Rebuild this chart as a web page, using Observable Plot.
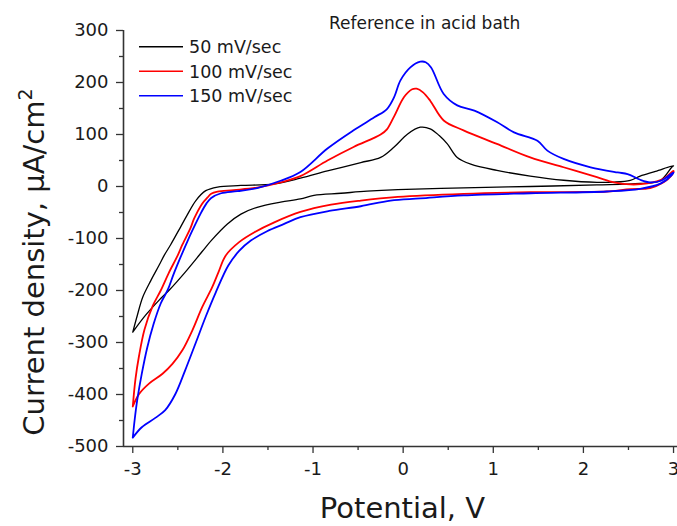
<!DOCTYPE html>
<html>
<head>
<meta charset="utf-8">
<script src="https://cdn.jsdelivr.net/npm/d3@7"></script>
<script src="https://cdn.jsdelivr.net/npm/@observablehq/plot@0.6"></script>
<style>
  html, body { margin: 0; padding: 0; background: #ffffff; }
  #chart { width: 677px; height: 526px; }
</style>
</head>
<body>
<div id="chart"></div>
<script>
// ---- text ----
const titleText = "Reference in acid bath";
const xLabelText = "Potential, V";
const yLabelText = "Current density, \u03BCA/cm";
const yLabelSup = "2";

// ---- series ----
const seriesNames = ["50 mV/sec", "100 mV/sec", "150 mV/sec"];
const seriesColors = ["#000000", "#ff0000", "#0000ff"];

// ---- ticks ----
const xTicks = [-3, -2, -1, 0, 1, 2, 3];
const xMinorTicks = [-2.5, -1.5, -0.5, 0.5, 1.5, 2.5];
const yTicks = [-500, -400, -300, -200, -100, 0, 100, 200, 300];
const yMinorTicks = [-450, -350, -250, -150, -50, 50, 150, 250];
const xDomain = [-3.103, 3.044];
const yDomain = [-500, 300];

// ---- 50 mV/sec loop (forward -3 -> 3, then reverse 3 -> -3) ----
const v50 = [-3.00,-2.95,-2.89,-2.80,-2.71,-2.65,-2.58,-2.47,-2.40,-2.30,-2.19,-2.06,-1.80,-1.43,-1.14,-0.84,-0.47,-0.25,-0.10,0.05,0.19,0.30,0.40,0.49,0.60,0.75,1.04,1.41,1.78,2.15,2.34,2.52,2.63,2.80,3.00,
             2.98,2.85,2.63,2.15,1.41,0.67,-0.06,-0.40,-0.69,-0.99,-1.14,-1.36,-1.62,-1.80,-1.95,-2.13,-2.23,-2.42,-2.60,-2.71,-2.86,-3.00];
const i50 = [-280,-248,-213,-181,-152,-132,-112,-78,-56,-27,-8,-1,2,5,16,30,46,56,76,101,114,111,98,82,56,43,31,20,12,8,8.5,12,20,29,40,
             37,11,6,3,0,-2.5,-6,-9,-13,-17,-24,-30,-40,-53,-72,-104,-125,-165,-200,-219,-248,-280];

// ---- 100 mV/sec loop ----
const v100 = [-3.00,-2.97,-2.93,-2.87,-2.78,-2.69,-2.60,-2.50,-2.45,-2.36,-2.32,-2.23,-2.17,-2.13,-2.06,-1.88,-1.62,-1.36,-1.14,-0.84,-0.55,-0.25,-0.18,-0.10,0.01,0.10,0.15,0.22,0.30,0.45,0.67,1.04,1.41,1.78,2.15,2.34,2.52,2.71,2.89,3.00,
              2.97,2.89,2.74,2.52,2.26,1.41,0.67,-0.06,-0.47,-0.80,-1.14,-1.43,-1.65,-1.82,-1.97,-2.05,-2.12,-2.23,-2.34,-2.45,-2.56,-2.67,-2.82,-2.93,-3.00];
const i100 = [-423,-370,-325,-275,-230,-200,-166,-132,-112,-80,-62,-33,-21,-14,-10,-7,-2,8,20,50,76,100,110,135,172,187,188,181,165,127,108,82,56,37,18,8,4,6,15,30,
              20,8,-3,-5,-9.6,-11,-14,-20,-27,-35,-49,-69,-88,-107,-133,-165,-194,-232,-277,-315,-341,-360,-379,-399,-423];

// ---- 150 mV/sec loop ----
const v150 = [-3.00,-2.98,-2.95,-2.90,-2.84,-2.77,-2.69,-2.61,-2.55,-2.47,-2.39,-2.34,-2.25,-2.18,-2.13,-2.02,-1.84,-1.62,-1.36,-1.14,-0.84,-0.55,-0.32,-0.18,-0.10,-0.03,0.08,0.19,0.25,0.31,0.45,0.60,0.79,1.04,1.23,1.49,1.60,1.78,2.08,2.38,2.49,2.63,2.74,2.86,3.00,
              2.98,2.86,2.63,2.26,1.41,0.67,0.19,-0.14,-0.47,-0.82,-1.14,-1.32,-1.51,-1.69,-1.82,-1.94,-2.08,-2.19,-2.30,-2.42,-2.53,-2.64,-2.75,-2.90,-3.00];
const i150 = [-483,-450,-410,-360,-310,-265,-225,-198,-170,-136,-104,-85,-53,-32,-22,-13,-9,-3,11,28,73,108,133,149,172,204,229,240,239,229,178,156,146,124,104,88,69,53,37,27,24,13,8,11,27,
              22,6,-4.5,-9.6,-13,-17,-23,-27,-38,-47,-59,-72,-86,-104,-124,-152,-204,-250,-300,-354,-400,-430,-445,-463,-483];

const rows = (v, i, s) => v.map((x, k) => ({potential: x, current: i[k], series: s}));
const d50 = rows(v50, i50, seriesNames[0]);
const d100 = rows(v100, i100, seriesNames[1]);
const d150 = rows(v150, i150, seriesNames[2]);

const axisColor = "#333333";
const fmt = d => String(d);

const plot = Plot.plot({
  width: 677,
  height: 526,
  marginLeft: 123,
  marginRight: 0,
  marginTop: 30,
  marginBottom: 80,
  x: {domain: xDomain},
  y: {domain: yDomain},
  style: {fontFamily: "'DejaVu Sans', sans-serif", fontSize: "18px", color: "#1a1a1a", background: "#ffffff", overflow: "visible"},
  marks: [
    Plot.line(d50, {x: "potential", y: "current", stroke: seriesColors[0], strokeWidth: 1.3, curve: "catmull-rom"}),
    Plot.line(d100, {x: "potential", y: "current", stroke: seriesColors[1], strokeWidth: 1.8, curve: "catmull-rom"}),
    Plot.line(d150, {x: "potential", y: "current", stroke: seriesColors[2], strokeWidth: 1.8, curve: "catmull-rom"}),
    Plot.ruleY([yDomain[0]], {stroke: axisColor, strokeWidth: 1.6}),
    Plot.ruleX([xDomain[0]], {stroke: axisColor, strokeWidth: 1.6}),
    Plot.axisX(xTicks, {tickSize: 7, tickPadding: 9, tickFormat: fmt, label: null, stroke: axisColor, strokeWidth: 1.3, fontSize: 18}),
    Plot.axisX(xMinorTicks, {tickSize: 4, tickFormat: () => "", label: null, stroke: axisColor, strokeWidth: 1.3}),
    Plot.axisY(yTicks, {tickSize: 7, tickPadding: 8, tickFormat: fmt, label: null, stroke: axisColor, strokeWidth: 1.3, fontSize: 18}),
    Plot.axisY(yMinorTicks, {tickSize: 4, tickFormat: () => "", label: null, stroke: axisColor, strokeWidth: 1.3})
  ]
});

document.getElementById("chart").appendChild(plot);

// ---- annotations (title, axis labels, legend) ----
const svg = d3.select(plot);
const font = "'DejaVu Sans', sans-serif";

svg.append("text")
  .attr("x", 329).attr("y", 29)
  .attr("text-anchor", "start")
  .attr("font-family", font).attr("font-size", 17).attr("fill", "#1a1a1a")
  .text(titleText);

svg.append("text")
  .attr("x", 402.5).attr("y", 518)
  .attr("text-anchor", "middle")
  .attr("font-family", font).attr("font-size", 29).attr("fill", "#1a1a1a")
  .text(xLabelText);

const yl = svg.append("text")
  .attr("transform", "translate(44,262) rotate(-90)")
  .attr("text-anchor", "middle")
  .attr("font-family", font).attr("font-size", 29).attr("fill", "#1a1a1a");
yl.append("tspan").text(yLabelText);
yl.append("tspan").attr("dy", -12).attr("font-size", 19).text(yLabelSup);

const legend = svg.append("g");
seriesNames.forEach((name, k) => {
  const cy = 46.7 + k * 24.5;
  legend.append("line")
    .attr("x1", 139).attr("x2", 183).attr("y1", cy).attr("y2", cy)
    .attr("stroke", seriesColors[k]).attr("stroke-width", 1.6);
  legend.append("text")
    .attr("x", 189).attr("y", cy + 6.4)
    .attr("text-anchor", "start")
    .attr("font-family", font).attr("font-size", 17.5).attr("fill", "#1a1a1a")
    .text(name);
});
</script>
</body>
</html>
